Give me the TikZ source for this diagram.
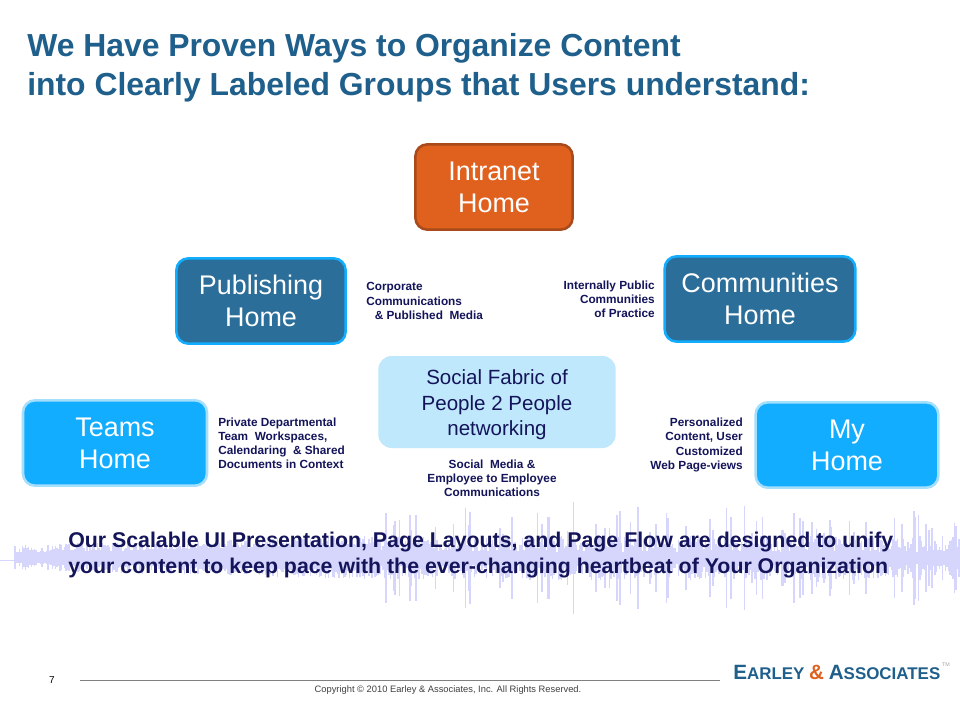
\documentclass[tikz,border=0pt]{standalone}
\usepackage{xcolor}
\usepackage{fontspec}
\setmainfont{Liberation Sans}
\usepackage{tikz}
\usetikzlibrary{positioning}
\definecolor{earleyblue}{HTML}{1F5F8C}
\definecolor{homeorange}{HTML}{E0601E}
\definecolor{orangeline}{HTML}{A84A1C}
\definecolor{homesteel}{HTML}{2A6E99}
\definecolor{homesky}{HTML}{12ADFF}
\definecolor{skyline}{HTML}{A6DFFB}
\definecolor{fabricblue}{HTML}{BFE8FC}
\definecolor{notenavy}{HTML}{14145A}
\definecolor{pulseblue}{HTML}{D6D6FC}

\begin{document}
\begin{tikzpicture}[
    x=0.75pt, y=-0.75pt,
    home/.style={draw, rounded corners=9pt, line width=1.9pt, minimum width=117pt, minimum height=64pt, text=white, font=\fontsize{20.2}{24}\selectfont, align=center, inner sep=0pt},
    orangehome/.style={home, fill=homeorange, draw=orangeline},
    steelhome/.style={home, fill=homesteel, draw=homesky},
    skyhome/.style={home, fill=homesky, draw=skyline},
    note/.style={font=\bfseries\fontsize{8.85}{10.6}\selectfont, text=notenavy, inner sep=0pt},
    headline/.style={font=\bfseries\fontsize{23.9}{29.3}\selectfont, text=earleyblue, align=left, inner sep=0pt},
]
\useasboundingbox (0,0) rectangle (960,720);
\fill[white] (0,0) rectangle (960,720);

% Heartbeat waveform
\pgfmathsetseed{7}
\draw[pulseblue, line width=0.6pt] (0,560) -- (20,560);
\foreach \xa in {15,16.5,...,379}{
    \pgfmathsetmacro{\amp}{3+\xa/40+9*rnd}
    \draw[pulseblue, line width=1pt] (\xa,557-\amp) -- (\xa,558+\amp);
}
\foreach \xa in {380,381.5,...,960}{
    \pgfmathsetmacro{\amp}{5+16*rnd+(rnd>0.72)*(20+30*rnd)*rnd}
    \draw[pulseblue, line width=1pt] (\xa,557-\amp) -- (\xa,559+\amp);
}

% Title
\node[headline, anchor=north west] (title) at (27,33) {We Have Proven Ways to Organize Content\\into Clearly Labeled Groups that Users understand:};

% Homes
\node[orangehome, minimum width=118pt] (intranet) at (494,187) {Intranet\\Home};
\node[steelhome, minimum width=127pt] (publishing) at (261,301) {Publishing\\Home};
\node[steelhome, minimum width=143pt] (communities) at (760,299) {Communities\\Home};
\node[skyhome, minimum width=138pt] (teams) at (115,443) {Teams\\Home};
\node[skyhome, minimum width=137pt] (my) at (847,445) {My\\Home};

% Social fabric
\node[draw=none, fill=fabricblue, rounded corners=10pt, minimum width=178pt, minimum height=69pt, text=notenavy, font=\fontsize{15.4}{19}\selectfont, align=center, inner sep=0pt] (fabric) at (497,402) {\rule{0pt}{15.5pt}Social Fabric of\\People 2 People\\networking};

% Notes
\node[note, align=left, anchor=west] (corporate) at (366,301) {Corporate\\Communications\\\ \ \,\& Published\ \ Media};
\node[note, align=right, anchor=east] (internal) at (655,299) {Internally Public\\Communities\\of Practice};
\node[note, align=left, anchor=west] (private) at (218,443) {Private Departmental\\Team\ \ Workspaces,\\Calendaring\ \ \& Shared\\Documents in Context};
\node[note, align=right, anchor=east] (personal) at (743,445) {Personalized\\Content, User\\Customized\\Web Page-views};
\node[note, align=center] (media) at (492,478) {Social\ \ Media \&\\Employee to Employee\\Communications};

% Message
\node[font=\bfseries\fontsize{16}{19.5}\selectfont, text=notenavy, align=left, anchor=west, inner sep=0pt] (message) at (68,555) {Our Scalable UI Presentation, Page Layouts, and Page Flow are designed to unify\\your content to keep pace with the ever-changing heartbeat of Your Organization};

% Footer
\node[font=\fontsize{7.5}{9}\selectfont, inner sep=0pt] (page) at (52,680) {7};
\coordinate (rulestart) at (80,680);
\coordinate (ruleend) at (720,680);
\draw[gray, line width=0.6pt] (rulestart) -- (ruleend);
\node[font=\fontsize{7}{8}\selectfont, text=black!75, inner sep=0pt] (copyright) at (448,690) {Copyright © 2010 Earley \& Associates, Inc. All Rights Reserved.};
\node[font=\bfseries\fontsize{15.5}{16}\selectfont, text=earleyblue, anchor=west, inner sep=0pt] (logo) at (733,672) {E\fontsize{12.7}{14}\selectfont ARLEY {\fontsize{15.5}{16}\selectfont\color{homeorange}\&} {\fontsize{15.5}{16}\selectfont A}SSOCIATES};
\node[font=\fontsize{4}{5}\selectfont, text=black!35, inner sep=0pt] (tm) at (946,665) {TM};

\end{tikzpicture}
\end{document}
